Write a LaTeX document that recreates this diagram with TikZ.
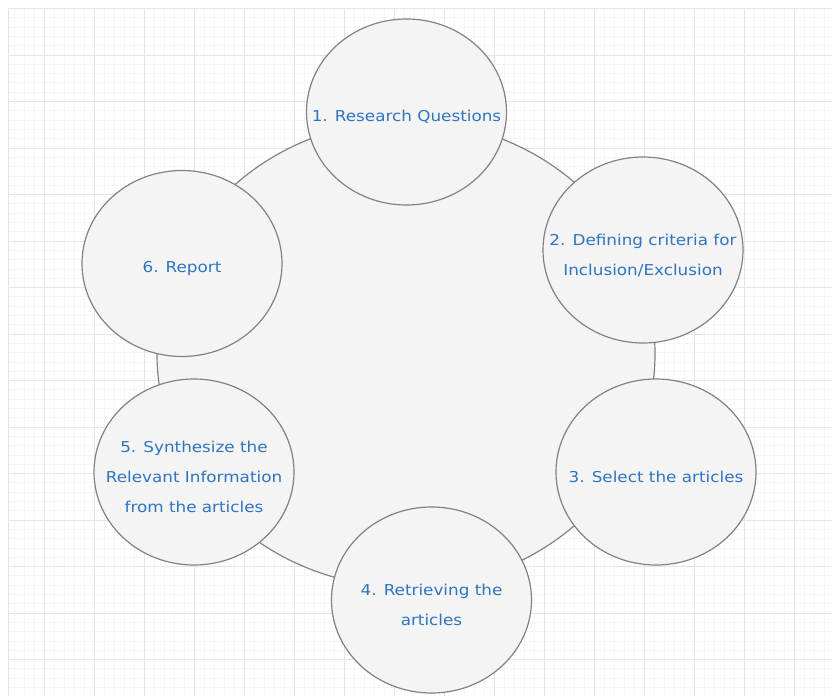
\documentclass[tikz,border=0pt]{standalone}
\usepackage{fontspec}
\usetikzlibrary{shapes.geometric}
\newfontfamily\lblfont[FakeStretch=1.12]{DejaVu Sans}
\definecolor{minorgrid}{RGB}{245,245,245}
\definecolor{majorgrid}{RGB}{228,228,228}
\definecolor{blobfill}{RGB}{244,244,244}
\definecolor{blobline}{RGB}{130,130,130}
\definecolor{lbltext}{RGB}{48,116,192}
\tikzset{
  blob/.style={ellipse, draw=blobline, fill=blobfill, line width=1.2bp,
    minimum width=200bp, minimum height=186bp, inner sep=0pt},
  hubblob/.style={ellipse, draw=blobline, fill=blobfill, line width=1.2bp,
    minimum width=498bp, minimum height=466bp, inner sep=0pt},
  lbl/.style={text=lbltext, align=center, inner sep=0pt,
    font=\lblfont\fontsize{15bp}{30bp}\selectfont},
  minorline/.style={draw=minorgrid, line width=0.8bp},
  majorline/.style={draw=majorgrid, line width=0.9bp}
}
\begin{document}
\begin{tikzpicture}[x=1bp,y=-1bp]
\useasboundingbox (0,0) rectangle (832,696);
\fill[white] (0,0) rectangle (832,696);
% minor grid
\foreach \i in {0,...,81} {\draw[minorline] ({14+10*\i},8) -- ({14+10*\i},696);}
\foreach \j in {0,...,74} {\draw[minorline] (8,{8.5+9.3*\j}) -- (832,{8.5+9.3*\j});}
% major grid
\foreach \i in {0,...,15} {\draw[majorline] ({44+50*\i},8) -- ({44+50*\i},696);}
\foreach \j in {0,...,14} {\draw[majorline] (8,{8.5+46.5*\j}) -- (832,{8.5+46.5*\j});}
\draw[majorline] (8,8) -- (8,696);
% hub
\node[hubblob] (hub) at (406,354) {};
% steps
\node[blob] (c1) at (406.5,112) {};
\node[blob] (c2) at (643,250) {};
\node[blob] (c3) at (656,472) {};
\node[blob] (c4) at (431.5,600) {};
\node[blob] (c5) at (194,472) {};
\node[blob] (c6) at (182,263.5) {};
\node[lbl] (t1) at ([yshift=-5bp]c1.center) {1. Research Questions};
\node[lbl] (t2) at ([yshift=-5bp]c2.center) {2. Defining criteria for\\Inclusion/Exclusion};
\node[lbl] (t3) at ([yshift=-5bp]c3.center) {3. Select the articles};
\node[lbl] (t4) at ([yshift=-5bp]c4.center) {4. Retrieving the\\articles};
\node[lbl] (t5) at ([yshift=-5bp]c5.center) {5. Synthesize the\\Relevant Information\\from the articles};
\node[lbl] (t6) at ([yshift=-5bp]c6.center) {6. Report};
\end{tikzpicture}
\end{document}
